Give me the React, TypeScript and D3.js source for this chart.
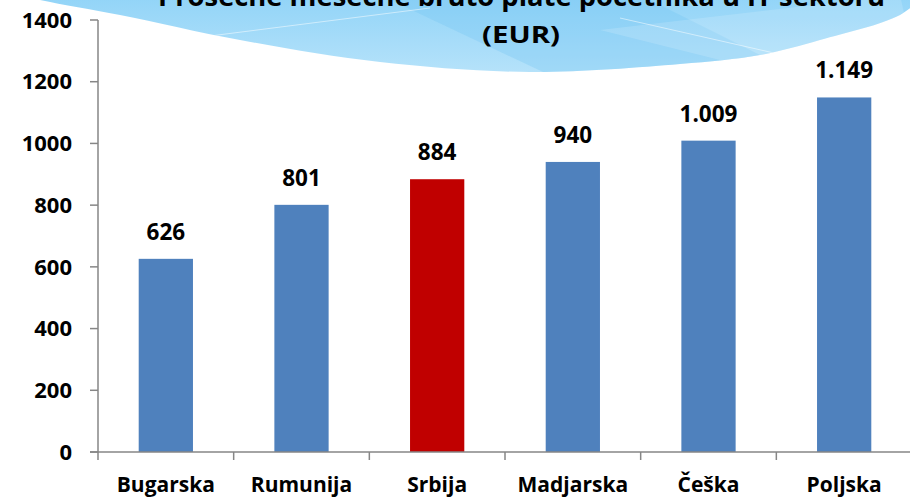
import * as d3 from "d3";
import React from "react";

const countries = ["Bugarska", "Rumunija", "Srbija", "Madjarska", "Češka", "Poljska"];
const salaries = [626, 801, 884, 940, 1009, 1149];
const valueLabels = ["626", "801", "884", "940", "1.009", "1.149"];
const yTicks = [0, 200, 400, 600, 800, 1000, 1200, 1400];
const titleLines = ["Prosečne mesečne bruto plate početnika u IT sektoru", "(EUR)"];

const fullwidth = 910;
const fullheight = 500;
const margin = { top: 20, right: 0, bottom: 48, left: 98 };
const font = "'Open Sans', Lato, sans-serif";

// outline of the blue decoration behind the title
const blobEdge: [number, number][] = [[-10, -12], [40, 0], [120, 15], [240, 40], [380, 62], [530, 72], [680, 64], [760, 55], [820, 40], [900, 15], [925, -5]];

export default function App() {
    const width = fullwidth - margin.left - margin.right;
    const height = fullheight - margin.top - margin.bottom;

    const x = d3.scaleBand().domain(countries).range([0, width + 2]).paddingInner(0.6).paddingOuter(0.3);
    const band = d3.scaleBand().domain(countries).range([0, width + 2]);
    const y = d3.scaleLinear().domain([0, 1400]).range([height, 0]);

    const edge = d3.line().curve(d3.curveCatmullRom)(blobEdge) + " L 925 -20 L -10 -20 Z";

    return <svg width={fullwidth} height={fullheight} style={{ position: "absolute", left: 0, top: 0, background: "#fff" }}>
        <defs>
            <linearGradient id="sky" x1="0" y1="0" x2="0" y2="1">
                <stop offset="0" stopColor="#8ad1f7" />
                <stop offset="1" stopColor="#b5e2fa" />
            </linearGradient>
            <clipPath id="blobclip"><path d={edge} /></clipPath>
        </defs>
        <path d={edge} fill="url(#sky)" />
        <g clipPath="url(#blobclip)">
            <path d="M 380 -5 L 640 -5 L 800 75 L 560 80 Z" fill="#6fc3f2" opacity={0.3} />
            <path d="M 600 30 L 900 -5 L 910 40 L 760 70 Z" fill="#ffffff" opacity={0.15} />
            <path d="M 210 36 L 430 8" stroke="#fff" strokeOpacity={0.5} strokeWidth={1} />
            <path d="M 620 18 L 840 68" stroke="#fff" strokeOpacity={0.5} strokeWidth={1} />
        </g>

        <text x={158} y={6} textLength={727} lengthAdjust="spacingAndGlyphs" fontFamily={font} fontWeight="bold" fontSize={26} fill="#000">{titleLines[0]}</text>
        <text x={482} y={43} textLength={78} lengthAdjust="spacingAndGlyphs" fontFamily={font} fontWeight="bold" fontSize={24} fill="#000">{titleLines[1]}</text>

        <g transform={`translate(${margin.left},${margin.top})`}>
            {countries.map((c, i) =>
                <rect key={c} x={x(c)} y={y(salaries[i])} width={x.bandwidth()} height={height - y(salaries[i])}
                    fill={c === "Srbija" ? "#c00000" : "#4f81bd"} />
            )}
            {countries.map((c, i) =>
                <text key={c} x={x(c)! + x.bandwidth() / 2} y={y(salaries[i]) - 19} textAnchor="middle"
                    fontFamily={font} fontWeight="bold" fontSize={22.5} fill="#000">{valueLabels[i]}</text>
            )}

            <line x1={0} x2={0} y1={0} y2={height} stroke="#868686" strokeWidth={1.5} />
            <line x1={-8} x2={width + 2} y1={height} y2={height} stroke="#868686" strokeWidth={1.5} />
            {yTicks.map(t =>
                <g key={t} transform={`translate(0,${y(t)})`}>
                    <line x1={-8} x2={0} stroke="#868686" strokeWidth={1.5} />
                    <text x={-26} dy="0.35em" textAnchor="end" fontFamily={font} fontWeight="bold" fontSize={22} fill="#000">{t}</text>
                </g>
            )}
            {countries.map(c =>
                <line key={c} x1={band(c)} x2={band(c)} y1={height} y2={height + 8} stroke="#868686" strokeWidth={1.5} />
            )}
            {countries.map(c =>
                <text key={c} x={band(c)! + band.bandwidth() / 2} y={height + 40} textAnchor="middle"
                    fontFamily={font} fontWeight="bold" fontSize={21} fill="#000">{c}</text>
            )}
        </g>
    </svg>
}
